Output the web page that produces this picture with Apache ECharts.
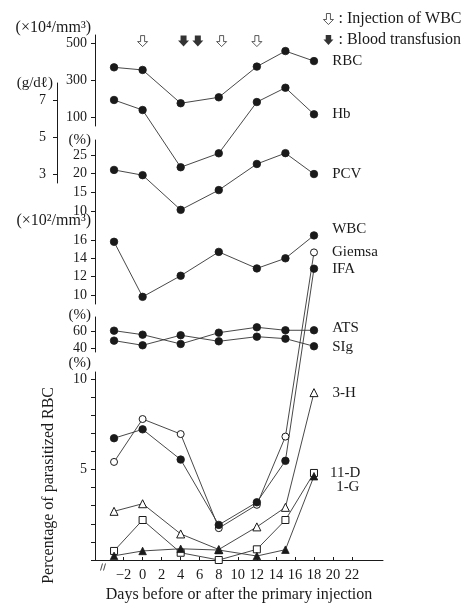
<!DOCTYPE html>
<html>
<head>
<meta charset="utf-8">
<script src="https://cdn.jsdelivr.net/npm/echarts@6/dist/echarts.min.js"></script>
<style>
  html, body { margin: 0; padding: 0; background: #fff; }
  #chart { width: 469px; height: 604px; }
</style>
</head>
<body>
<div id="chart"></div>
<script>
// Sampling days (relative to the primary injection)
const days = [-3, 0, 4, 8, 12, 15, 18];

// Haematology
const rbc = [370, 356, 176, 208, 374, 458, 404];          // ×10^4/mm^3
const hb = [7.0, 6.46, 3.38, 4.13, 6.89, 7.66, 6.23];      // g/dl
const pcv = [21.0, 19.6, 10.3, 15.6, 22.6, 25.5, 19.9];    // %
const wbc = [15.8, 9.8, 12.1, 14.7, 12.9, 14.0, 16.5];     // ×10^2/mm^3

// Antibody tests (%)
const ats = [61.2, 56.4, 45.2, 58.8, 65.3, 61.7, 61.7];
const sig = [49.2, 43.6, 55.7, 48.4, 54.0, 51.6, 42.4];

// Percentage of parasitized RBC
const giemsa = [5.42, 7.79, 6.96, 1.76, 3.05, 6.82, 17.0];
const ifa = [6.73, 7.22, 5.55, 1.94, 3.19, 5.48, 16.1];
const h3 = [2.69, 3.11, 1.44, 0.58, 1.83, 2.91, 9.25];
const d11 = [0.5, 2.21, 0.4, 0, 0.59, 2.21, 4.81];
const g1 = [0.23, 0.5, 0.62, 0.55, 0.22, 0.57, 4.63];

// Treatment events
const wbcInjectionDays = [0, 8.3, 12];
const transfusionDays = [4.3, 5.8];

// Axis ticks
const xTicks = [-2, 0, 2, 4, 6, 8, 10, 12, 14, 16, 18, 20, 22];
const rbcTicks = [100, 300, 500];
const hbTicks = [3, 5, 7];
const pcvTicks = [10, 15, 20, 25];
const wbcTicks = [10, 12, 14, 16];
const abTicks = [40, 60];
const parTicks = [0, 1, 2, 3, 4, 5, 6, 7, 8, 9, 10];
const parLabels = [5, 10];

const FONT = '"Liberation Serif", "DejaVu Serif", serif';
const INK = '#1a1a1a';
const X_MIN = -5, X_MAX = 25.25;

const OPEN_ARROW = 'path://M3,0 L7,0 L7,6 L10,6 L5,11 L0,6 L3,6 Z';
const SOLID_ARROW = 'path://M2.5,0 L8.5,0 L8.5,5 L11,5 L5.5,11 L0,5 L2.5,5 Z';

// Stacked panels sharing the day axis
const panels = [
  { top: 35,  height: 91,  min: 53,    max: 544.9, ticks: rbcTicks, labels: rbcTicks, name: '(×10⁴/mm³)', nameSize: 16, gap: 7, offset: 0,  margin: 8 },
  { top: 83,  height: 100, min: 2.532, max: 7.915, ticks: hbTicks,  labels: hbTicks,  name: '(g/dℓ)',      nameSize: 15, gap: 0, offset: 38, margin: 11 },
  { top: 140, height: 82,  min: 7.05,  max: 29.02, ticks: pcvTicks, labels: pcvTicks, name: '(%)',          nameSize: 15, gap: 0, offset: 0,  margin: 8 },
  { top: 222, height: 82,  min: 9.02,  max: 17.96, ticks: wbcTicks, labels: wbcTicks, name: '(×10²/mm³)', nameSize: 16, gap: 1, offset: 0,  margin: 8 },
  { top: 317, height: 35,  min: 35.5,  max: 77.7,  ticks: abTicks,  labels: abTicks,  name: '(%)',          nameSize: 15, gap: 2, offset: 0,  margin: 8 },
  { top: 372, height: 193, min: 0,     max: 10.39, ticks: parTicks, labels: parLabels, name: '(%)',         nameSize: 15, gap: 9, offset: 0,  margin: 8 }
];

const grids = panels.map(p => ({ left: 95, width: 288, top: p.top, height: p.height }));

const xAxes = panels.map((p, i) => {
  const last = i === panels.length - 1;
  return {
    gridIndex: i, type: 'value', min: X_MIN, max: X_MAX, show: last,
    position: 'bottom',
    splitLine: { show: false },
    axisLine: { show: last, onZero: false, lineStyle: { color: INK, width: 1 } },
    axisTick: { show: true, inside: true, length: 3, customValues: xTicks, lineStyle: { color: INK } },
    axisLabel: {
      customValues: xTicks, margin: 8,
      fontFamily: FONT, fontSize: 14.5, color: INK,
      formatter: v => (v < 0 ? '−' + Math.abs(v) : String(v))
    },
    name: last ? 'Days before or after the primary injection' : '',
    nameLocation: 'middle', nameGap: 27,
    nameTextStyle: { fontFamily: FONT, fontSize: 16, color: INK }
  };
});

const yAxes = panels.map((p, i) => ({
  gridIndex: i, type: 'value', min: p.min, max: p.max, offset: p.offset,
  position: 'left',
  splitLine: { show: false },
  axisLine: { show: true, onZero: false, lineStyle: { color: INK, width: 1 } },
  axisTick: { show: true, length: 4, customValues: p.ticks, lineStyle: { color: INK } },
  axisLabel: { customValues: p.labels, margin: p.margin, fontFamily: FONT, fontSize: 14, color: INK },
  name: p.name, nameLocation: 'end', nameGap: p.gap,
  nameTextStyle: { fontFamily: FONT, fontSize: p.nameSize, color: INK, align: 'right', verticalAlign: 'middle', padding: [0, 4, 0, 0] }
}));

const SOLID = { color: INK, borderColor: INK, borderWidth: 0.8 };
const HOLLOW = { color: '#fff', borderColor: INK, borderWidth: 1 };

function curve(name, values, grid, symbol, size, style, labelOpts) {
  const data = values.map((v, i) => ({ value: [days[i], v] }));
  data[data.length - 1].label = Object.assign({
    show: true, position: 'right', distance: 14, formatter: name,
    fontFamily: FONT, fontSize: 15, color: INK
  }, labelOpts || {});
  return {
    name, type: 'line', xAxisIndex: grid, yAxisIndex: grid, data,
    symbol, symbolSize: size, showSymbol: true, clip: false,
    lineStyle: { color: '#333', width: 0.9 },
    itemStyle: style,
    label: { show: false },
    emphasis: { disabled: true },
    animation: false
  };
}

const series = [
  curve('RBC', rbc, 0, 'circle', 7.5, SOLID),
  curve('Hb', hb, 1, 'circle', 7.5, SOLID),
  curve('PCV', pcv, 2, 'circle', 7.5, SOLID),
  curve('WBC', wbc, 3, 'circle', 7.5, SOLID, { offset: [0, -6] }),
  curve('ATS', ats, 4, 'circle', 7.5, SOLID, { offset: [0, -2] }),
  curve('SIg', sig, 4, 'circle', 7.5, SOLID, { offset: [0, 1] }),
  curve('Giemsa', giemsa, 5, 'circle', 7, HOLLOW),
  curve('IFA', ifa, 5, 'circle', 7.5, SOLID),
  curve('3-H', h3, 5, 'triangle', 8, HOLLOW),
  curve('11-D', d11, 5, 'rect', 7, HOLLOW, { distance: 12 }),
  curve('1-G', g1, 5, 'triangle', 7.5, SOLID, { offset: [4, 11] }),
  {
    name: 'Injection of WBC', type: 'scatter', xAxisIndex: 0, yAxisIndex: 0,
    data: wbcInjectionDays.map(d => [d, 512]), clip: false,
    symbol: OPEN_ARROW, symbolSize: [10, 11],
    itemStyle: { color: '#fff', borderColor: INK, borderWidth: 0.9 },
    emphasis: { disabled: true }, animation: false
  },
  {
    name: 'Blood transfusion', type: 'scatter', xAxisIndex: 0, yAxisIndex: 0,
    data: transfusionDays.map(d => [d, 512]), clip: false,
    symbol: SOLID_ARROW, symbolSize: [11, 11],
    itemStyle: { color: '#000' },
    emphasis: { disabled: true }, animation: false
  }
];

const chart = echarts.init(document.getElementById('chart'), null, { renderer: 'canvas' });
chart.setOption({
  backgroundColor: '#fff',
  animation: false,
  legend: {
    orient: 'vertical', left: 318, top: 6, itemGap: 5,
    itemWidth: 10, itemHeight: 11, selectedMode: false,
    data: [
      { name: 'Injection of WBC', icon: OPEN_ARROW, itemStyle: { color: '#fff', borderColor: INK, borderWidth: 0.9 } },
      { name: 'Blood transfusion', icon: SOLID_ARROW, itemStyle: { color: '#000' } }
    ],
    formatter: n => ': ' + n,
    textStyle: { fontFamily: FONT, fontSize: 16, color: INK }
  },
  grid: grids,
  xAxis: xAxes,
  yAxis: yAxes,
  series,
  graphic: [
    {
      type: 'text', left: 41, top: 387, rotation: Math.PI / 2, silent: true,
      style: { text: 'Percentage of parasitized RBC', font: '16px ' + FONT, fill: INK }
    },
    {
      type: 'group', silent: true, left: 98, top: 561,
      children: [
        { type: 'rect', shape: { x: 0, y: 2, width: 6, height: 5 }, style: { fill: '#fff' } },
        { type: 'line', shape: { x1: 0, y1: 8, x2: 2, y2: 1 }, style: { stroke: INK, lineWidth: 0.8 } },
        { type: 'line', shape: { x1: 3, y1: 8, x2: 5, y2: 1 }, style: { stroke: INK, lineWidth: 0.8 } }
      ]
    }
  ]
});
</script>
</body>
</html>
